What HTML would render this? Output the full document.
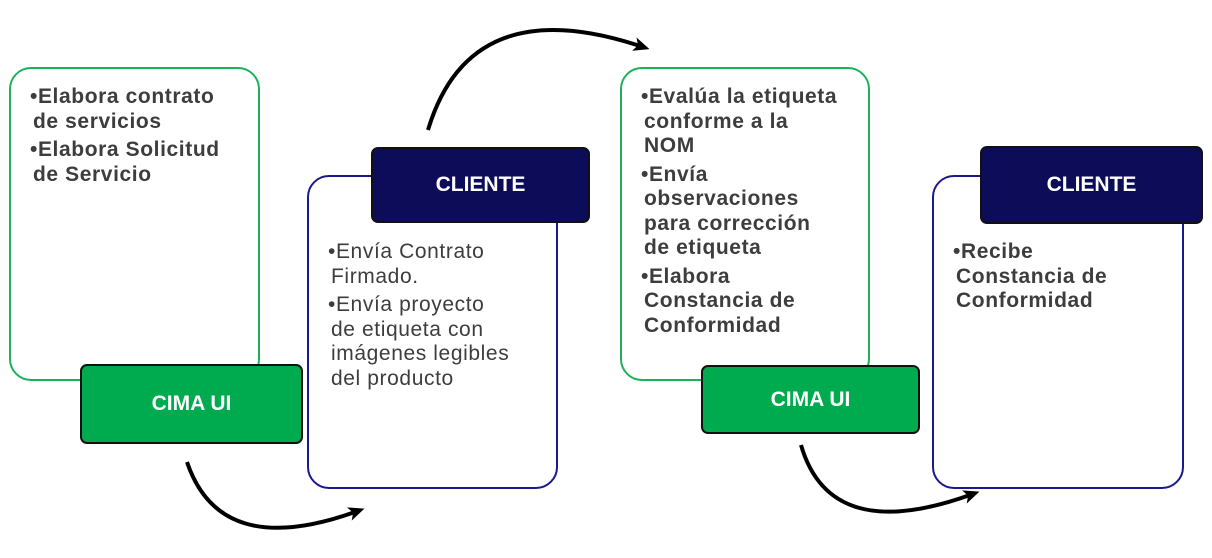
<!DOCTYPE html>
<html><head><meta charset="utf-8"><style>
body{margin:0;width:1212px;height:558px;background:#fff;position:relative;overflow:hidden;font-family:"Liberation Sans",sans-serif}
.b{position:absolute;box-sizing:border-box;border-radius:22px;background:#fff}
.g{border:2px solid #1fb05a}
.n{border:2px solid #1a1a8c}
.lab{position:absolute;box-sizing:border-box;border:2px solid #111;border-radius:7px;color:#fff;font-weight:bold;font-size:21px;display:flex;align-items:center;justify-content:center}
.cg{background:#00ab4f}
.cn{background:#0c0c58}
.t{position:absolute;color:#3d3d3d;font-size:21px;line-height:24.5px;letter-spacing:0.6px;white-space:nowrap}
.t p{margin:0 0 4px 0;padding-left:3px;text-indent:-3px}
.bold{font-weight:bold}
</style></head><body>
<svg width="1212" height="558" style="position:absolute;left:0;top:0">
<defs><marker id="a" markerWidth="16" markerHeight="14" refX="6" refY="7" orient="auto" markerUnits="userSpaceOnUse" viewBox="0 0 16 14"><path d="M0,0 L16,7 L0,14 L4,7 z" fill="#000"/></marker></defs>
<path d="M187,462 Q220,560 355,512" fill="none" stroke="#000" stroke-width="4" marker-end="url(#a)"/>
<path d="M428,130 Q470,-10 640,46" fill="none" stroke="#000" stroke-width="4" marker-end="url(#a)"/>
<path d="M801,445 Q830,545 970,495" fill="none" stroke="#000" stroke-width="4" marker-end="url(#a)"/>
</svg>
<div class="b g" style="left:9px;top:67px;width:251px;height:314px"></div>
<div class="b n" style="left:307px;top:175px;width:251px;height:314px"></div>
<div class="b g" style="left:620px;top:67px;width:250px;height:314px"></div>
<div class="b n" style="left:932px;top:175px;width:252px;height:314px"></div>
<div class="lab cg" style="left:80px;top:364px;width:223px;height:80px">CIMA UI</div>
<div class="lab cn" style="left:371px;top:147px;width:219px;height:76px">CLIENTE</div>
<div class="lab cg" style="left:701px;top:365px;width:219px;height:69px">CIMA UI</div>
<div class="lab cn" style="left:980px;top:146px;width:223px;height:78px">CLIENTE</div>
<div class="t bold" style="left:30px;top:85px">
<p>•Elabora contrato<br>de servicios</p><p>•Elabora Solicitud<br>de Servicio</p></div>
<div class="t" style="left:328px;top:240px">
<p>•Envía Contrato<br>Firmado.</p><p>•Envía proyecto<br>de etiqueta con<br>imágenes legibles<br>del producto</p></div>
<div class="t bold" style="left:641px;top:85px">
<p>•Evalúa la etiqueta<br>conforme a la<br>NOM</p><p>•Envía<br>observaciones<br>para corrección<br>de etiqueta</p><p>•Elabora<br>Constancia de<br>Conformidad</p></div>
<div class="t bold" style="left:953px;top:240px">
<p>•Recibe<br>Constancia de<br>Conformidad</p></div>
</body></html>
